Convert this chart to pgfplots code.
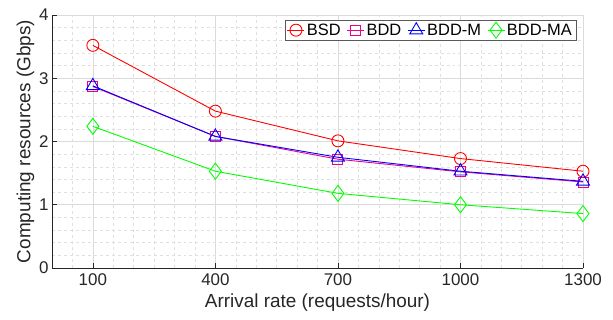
\documentclass[border=0pt]{standalone}
\usepackage{fontspec}
\setmainfont{Liberation Sans}
\usepackage{pgfplots}
\pgfplotsset{compat=1.18}
\usetikzlibrary{calc}
\definecolor{axisgray}{gray}{0.15}
\definecolor{majgrid}{gray}{0.86}
\definecolor{mingrid}{gray}{0.88}
\begin{document}
\begin{tikzpicture}
\begin{axis}[
  scale only axis,
  width=531bp, height=253bp,
  xmin=0, xmax=1300, ymin=0, ymax=4,
  axis x line*=bottom, axis y line*=left,
  axis line style={axisgray, line width=0.6pt},
  xtick={100,400,700,1000,1300},
  ytick={0,1,2,3,4},
  minor xtick={0,50,...,1300},
  minor ytick={0,0.2,...,4},
  grid=both,
  major grid style={majgrid, line width=0.6pt},
  minor grid style={mingrid, dashed, line width=0.5pt},
  tick align=inside,
  major tick length=5bp,
  minor tick length=0pt,
  tick style={axisgray, line width=0.6pt},
  tick label style={font=\fontsize{17}{19}\selectfont, text=axisgray},
  /pgf/number format/assume math mode=true,
  /pgf/number format/1000 sep={},
  xticklabel style={yshift=-2bp},
  label style={font=\fontsize{19}{21}\selectfont, text=axisgray},
  xlabel={Arrival rate (requests/hour)},
  ylabel={Computing resources (Gbps)},
  xlabel style={yshift=-1bp},
  ylabel style={yshift=-2bp},
  legend columns=4,
  legend style={at={(1,1)}, anchor=north east, xshift=-7bp, yshift=-5bp,
    draw=gray!70!black, fill=white, font=\fontsize{16.5}{18}\selectfont,
    inner xsep=2pt, inner ysep=1.5pt, /tikz/every even column/.append style={column sep=4bp}},
  legend cell align=left,
]
\addplot[red, line width=0.9pt, mark=o, mark size=6bp, mark options={line width=0.9pt}]
  coordinates {(100,3.52) (400,2.48) (700,2.01) (1000,1.73) (1300,1.53)};
\addlegendentry{BSD}
\addplot[magenta, line width=0.9pt, mark=square, mark size=5bp, mark options={line width=0.9pt}]
  coordinates {(100,2.87) (400,2.08) (700,1.72) (1000,1.52) (1300,1.36)};
\addlegendentry{BDD}
\addplot[blue, line width=0.9pt, mark=triangle, mark size=7.5bp, mark options={line width=0.9pt}]
  coordinates {(100,2.88) (400,2.08) (700,1.75) (1000,1.53) (1300,1.37)};
\addlegendentry{BDD-M}
\addplot[green, line width=0.9pt, mark=diamond, mark size=8bp, mark options={line width=0.9pt}]
  coordinates {(100,2.24) (400,1.53) (700,1.18) (1000,1.00) (1300,0.86)};
\addlegendentry{BDD-MA}
\end{axis}
\pgfresetboundingbox
\path ($(current axis.south west)+(-52bp,-52bp)$) rectangle ($(current axis.north east)+(30bp,15bp)$);
\end{tikzpicture}
\end{document}
